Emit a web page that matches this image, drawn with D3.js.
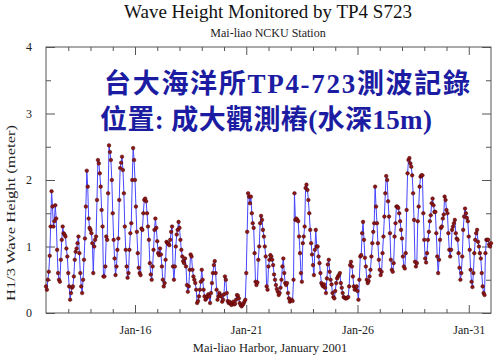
<!DOCTYPE html>
<html><head><meta charset="utf-8">
<script src="https://cdn.jsdelivr.net/npm/d3@7"></script>
<style>body{margin:0;background:#fff} svg{display:block}</style>
</head><body><svg id="c" width="500" height="356"></svg>
<script>
const startTime = "2001-01-12T00:00:00Z";
const endTime = "2001-02-01T00:00:00Z";
const stepHours = 1;
// hourly H1/3 (m), one line per day from Jan 12
const heights = [
0.4,0.35,0.5,0.62,0.86,1.3,1.83,1.6,1.3,1.38,1.62,1.42,0.95,0.6,0.5,0.47,0.8,1.1,1.3,1.2,1.18,1.15,0.97,0.85,
0.6,0.4,0.2,0.3,0.38,0.4,0.55,0.8,0.92,0.97,1.05,1.15,0.9,0.6,0.4,0.3,0.5,0.8,1.12,1.6,2.14,1.9,1.42,1.28,
1.25,1.2,1.05,0.6,1.0,1.1,1.15,1.7,2.3,2.25,2.1,1.9,1.55,1.3,0.55,0.55,0.7,1.15,1.1,1.8,2.52,2.42,2.3,2.0,
1.5,1.1,0.82,0.57,0.7,0.95,1.12,1.7,2.18,2.26,2.35,2.15,1.8,1.3,0.95,0.7,0.53,0.6,0.95,1.2,1.35,2.0,2.48,2.3,
2.0,1.6,1.22,0.9,0.68,0.6,0.57,1.27,1.25,1.5,1.7,1.72,1.68,1.5,1.3,1.1,0.75,0.58,0.5,0.7,0.95,1.25,1.42,1.28,
1.08,0.9,0.87,0.97,0.88,0.7,0.5,0.4,0.45,0.8,1.07,1.05,1.04,1.02,1.1,1.22,1.3,0.7,0.5,0.7,1.0,1.18,1.25,1.37,
1.28,1.1,0.95,0.85,0.78,0.75,0.82,0.7,0.42,0.32,0.4,0.65,0.88,0.85,0.65,0.55,0.5,0.45,0.35,0.15,0.18,0.25,0.35,0.47,
0.65,0.5,0.35,0.25,0.2,0.22,0.25,0.28,0.25,0.15,0.3,0.45,0.6,0.72,0.78,0.6,0.35,0.2,0.25,0.3,0.27,0.25,0.17,0.2,
0.28,0.55,0.5,0.3,0.18,0.15,0.17,0.14,0.12,0.15,0.17,0.13,0.14,0.2,0.27,0.26,0.22,0.15,0.12,0.1,0.12,0.14,0.17,0.2,
0.6,1.22,1.8,1.75,1.65,1.75,1.5,1.35,1.28,0.9,0.47,0.42,0.46,0.8,1.0,1.35,1.46,1.4,1.25,1.15,1.0,0.85,0.4,0.35,
0.7,0.8,0.87,0.85,0.8,0.72,0.58,0.5,0.42,0.36,0.32,0.27,0.3,0.38,0.5,0.7,0.82,0.6,0.45,0.42,0.45,0.3,0.22,0.17,
0.19,0.2,0.18,0.5,1.8,1.4,1.42,1.4,1.38,1.15,0.9,0.6,0.47,1.05,1.15,1.3,1.88,1.93,1.85,1.7,1.5,1.25,1.05,0.88,
0.72,0.57,0.95,1.25,1.0,1.0,0.85,0.75,0.6,0.45,0.42,0.4,0.43,0.38,0.3,0.52,0.73,0.8,0.62,0.5,0.43,0.3,0.24,0.22,
0.33,0.45,0.52,0.55,0.57,0.6,0.45,0.38,0.3,0.24,0.23,0.22,0.22,0.23,0.24,0.4,0.72,0.77,0.7,0.55,0.4,0.35,0.38,0.4,
0.33,0.2,0.5,0.85,0.87,1.2,1.37,1.1,0.83,0.7,0.5,0.45,0.48,0.55,0.65,0.85,1.05,1.22,1.35,1.9,1.6,1.35,1.05,0.8,
0.65,0.57,0.62,0.9,1.15,1.45,1.8,2.06,2.0,1.68,1.45,1.2,0.8,0.65,0.62,0.75,1.15,1.35,1.6,1.6,1.58,1.5,1.38,1.25,
1.12,0.85,0.7,0.67,0.9,1.55,2.1,2.3,2.33,2.25,2.2,2.07,1.8,1.4,0.77,0.7,0.75,1.38,1.6,1.9,2.05,2.07,2.07,1.5,
1.1,0.82,0.76,0.9,1.1,1.22,1.38,1.47,1.65,1.72,1.62,1.52,1.52,1.2,0.85,0.6,0.8,1.1,1.28,1.3,1.42,1.48,1.75,1.7,
1.55,1.5,1.2,0.95,0.85,0.95,1.25,1.3,1.35,1.4,1.2,1.12,1.1,0.9,0.68,0.5,0.6,0.85,1.25,1.45,1.57,1.5,1.43,1.38,
1.15,0.95,0.65,0.47,0.39,0.6,0.9,1.1,1.2,1.25,1.07,1.0,0.9,0.82,0.6,0.4,0.3,0.27,0.9,1.1,1.1,1.1,1.03,1.0,
1.05
];
const majorTickDates = ["2001-01-16","2001-01-21","2001-01-26","2001-01-31"];
const majorTickLabels = ["Jan-16","Jan-21","Jan-26","Jan-31"];
const yMajorTicks = [0,1,2,3,4];
const yMinorTicks = [0.5,1.5,2.5,3.5];
const titleText = "Wave Height Monitored by TP4 S723";
const subtitleText = "Mai-liao NCKU Station";
const xLabelText = "Mai-liao Harbor, January 2001";
const yLabelText = "H1/3 Wave Height (meter)";
const overlayLines = ["台大海洋所TP4-723測波記錄", "位置: 成大觀測樁(水深15m)"];

const svg = d3.select("#c");
const L = 46, R = 491, T = 47, B = 313;
const t0 = new Date(startTime), t1 = new Date(endTime);
const x = d3.scaleUtc().domain([t0, t1]).range([L, R]);
const y = d3.scaleLinear().domain([0, 4]).range([B, T]);
const data = heights.map((v, i) => ({t: new Date(t0.getTime() + i * stepHours * 3600e3), v}));
const serif = "'Liberation Serif','Times New Roman',serif";
const axisColor = "#555";

const dailyTicks = d3.utcDay.range(t0, t1).slice(1);
const majorDates = majorTickDates.map(d => new Date(d + "T00:00:00Z"));
const minorDates = dailyTicks.filter(d => !majorDates.some(m => +m === +d));

function styleAxis(g){
  g.select(".domain").remove();
  g.selectAll("line").attr("stroke", axisColor).attr("stroke-width", 1);
  g.selectAll("text").attr("font-family", serif).attr("font-size", 12).attr("fill", "#222");
}
svg.append("g").attr("transform", `translate(0,${B})`)
  .call(d3.axisBottom(x).tickValues(majorDates).tickFormat((d,i)=>majorTickLabels[i]).tickSizeInner(-8).tickSizeOuter(0).tickPadding(12))
  .call(styleAxis);
svg.append("g").attr("transform", `translate(0,${B})`)
  .call(d3.axisBottom(x).tickValues(minorDates).tickFormat("").tickSizeInner(-4).tickSizeOuter(0))
  .call(styleAxis);
svg.append("g").attr("transform", `translate(0,${T})`)
  .call(d3.axisTop(x).tickValues(majorDates).tickFormat("").tickSizeInner(-8).tickSizeOuter(0))
  .call(styleAxis);
svg.append("g").attr("transform", `translate(0,${T})`)
  .call(d3.axisTop(x).tickValues(minorDates).tickFormat("").tickSizeInner(-4).tickSizeOuter(0))
  .call(styleAxis);
svg.append("g").attr("transform", `translate(${L},0)`)
  .call(d3.axisLeft(y).tickValues(yMajorTicks).tickFormat(d3.format("d")).tickSizeInner(-9).tickSizeOuter(0).tickPadding(14))
  .call(styleAxis);
svg.append("g").attr("transform", `translate(${L},0)`)
  .call(d3.axisLeft(y).tickValues(yMinorTicks).tickFormat("").tickSizeInner(-5).tickSizeOuter(0))
  .call(styleAxis);
svg.append("g").attr("transform", `translate(${R},0)`)
  .call(d3.axisRight(y).tickValues(yMajorTicks).tickFormat("").tickSizeInner(-9).tickSizeOuter(0))
  .call(styleAxis);
svg.append("g").attr("transform", `translate(${R},0)`)
  .call(d3.axisRight(y).tickValues(yMinorTicks).tickFormat("").tickSizeInner(-5).tickSizeOuter(0))
  .call(styleAxis);
svg.append("rect").attr("x", L).attr("y", T).attr("width", R - L).attr("height", B - T)
  .attr("fill", "none").attr("stroke", axisColor).attr("stroke-width", 1);

const line = d3.line().x(d => x(d.t)).y(d => y(d.v));
svg.append("path").datum(data).attr("d", line).attr("fill", "none")
  .attr("stroke", "#4646ff").attr("stroke-width", 1);
svg.append("g").selectAll("circle").data(data).join("circle")
  .attr("cx", d => x(d.t)).attr("cy", d => y(d.v)).attr("r", 1.8)
  .attr("fill", "#8e1616").attr("stroke", "#4a0000").attr("stroke-width", 0.5);

svg.append("text").attr("x", 268).attr("y", 18).attr("text-anchor", "middle")
  .attr("font-family", serif).attr("font-size", 19).attr("fill", "#111").text(titleText);
svg.append("text").attr("x", 268).attr("y", 37).attr("text-anchor", "middle")
  .attr("font-family", serif).attr("font-size", 12).attr("fill", "#222").text(subtitleText);
svg.append("text").attr("x", 270).attr("y", 352).attr("text-anchor", "middle")
  .attr("font-family", serif).attr("font-size", 12.5).attr("fill", "#222").text(xLabelText);
svg.append("text").attr("transform", "translate(15,213) rotate(-90)").attr("text-anchor", "middle")
  .attr("font-family", serif).attr("font-size", 12).attr("fill", "#222")
  .attr("textLength", 176).attr("lengthAdjust", "spacingAndGlyphs").text(yLabelText);

const cjk = "'Liberation Serif','Noto Sans CJK TC','Noto Sans CJK SC',serif";
const overlayX = [104, 100], overlayW = [366, 332];
svg.append("g").selectAll("text").data(overlayLines).join("text")
  .attr("x", (d,i) => overlayX[i]).attr("y", (d,i) => 93 + i * 36)
  .attr("textLength", (d,i) => overlayW[i]).attr("lengthAdjust", "spacing")
  .attr("font-family", cjk).attr("font-weight", "bold").attr("font-size", 27)
  .attr("fill", "#1c1ca2").text(d => d);
</script></body></html>
